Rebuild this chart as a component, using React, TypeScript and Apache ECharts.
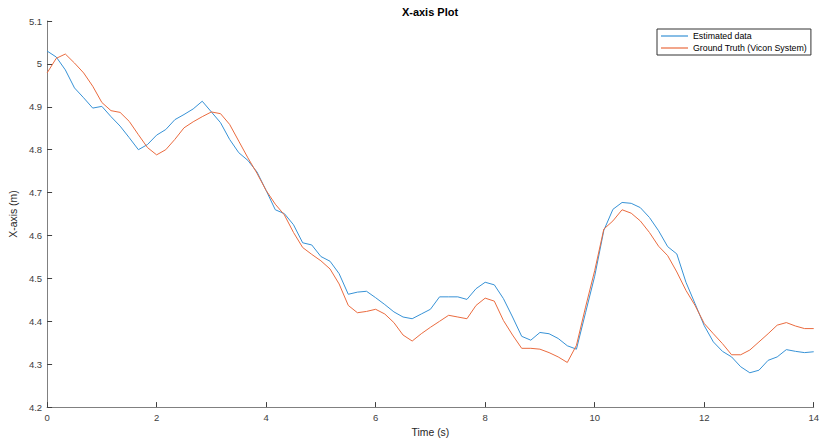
import React, { useEffect, useRef } from "react";
import * as echarts from "echarts";

const TIME = [
  0, 0.167, 0.333, 0.5, 0.667, 0.833, 1, 1.167, 1.333, 1.5, 1.667, 1.833, 2, 2.167, 2.333, 2.5, 2.667, 2.833,
  3, 3.167, 3.333, 3.5, 3.667, 3.833, 4, 4.167, 4.333, 4.5, 4.667, 4.833, 5, 5.167, 5.333, 5.5, 5.667, 5.833,
  6, 6.167, 6.333, 6.5, 6.667, 6.833, 7, 7.167, 7.333, 7.5, 7.667, 7.833, 8, 8.167, 8.333, 8.5, 8.667, 8.833,
  9, 9.167, 9.333, 9.5, 9.667, 9.833, 10, 10.167, 10.333, 10.5, 10.667, 10.833, 11, 11.167, 11.333, 11.5, 11.667, 11.833,
  12, 12.167, 12.333, 12.5, 12.667, 12.833, 13, 13.167, 13.333, 13.5, 13.667, 13.833, 14,
];

const ESTIMATED = [
  5.03, 5.016, 4.986, 4.944, 4.921, 4.897, 4.901, 4.877, 4.855, 4.828, 4.8, 4.812, 4.834, 4.847, 4.87, 4.882, 4.895, 4.913,
  4.888, 4.863, 4.824, 4.793, 4.775, 4.748, 4.705, 4.66, 4.651, 4.625, 4.583, 4.578, 4.551, 4.54, 4.511, 4.463, 4.468, 4.47,
  4.455, 4.439, 4.422, 4.41, 4.406, 4.417, 4.428, 4.457, 4.457, 4.457, 4.451, 4.476, 4.491, 4.485, 4.453, 4.41, 4.365, 4.356,
  4.374, 4.371, 4.36, 4.343, 4.335, 4.42, 4.505, 4.612, 4.661, 4.677, 4.675, 4.665, 4.642, 4.611, 4.574, 4.557, 4.491, 4.441,
  4.39, 4.352, 4.33, 4.317, 4.294, 4.28, 4.286, 4.309, 4.317, 4.334, 4.33, 4.327, 4.329,
];

const GROUND_TRUTH = [
  4.979, 5.013, 5.023, 5.002, 4.979, 4.948, 4.91, 4.891, 4.887, 4.866, 4.835, 4.805, 4.788, 4.8, 4.824, 4.851, 4.865, 4.877,
  4.888, 4.884, 4.859, 4.82, 4.781, 4.745, 4.705, 4.673, 4.648, 4.607, 4.572, 4.556, 4.541, 4.522, 4.487, 4.437, 4.42, 4.423,
  4.428, 4.417, 4.397, 4.368, 4.354, 4.371, 4.386, 4.4, 4.414, 4.41, 4.406, 4.437, 4.454, 4.447, 4.402, 4.368, 4.337, 4.337,
  4.335, 4.327, 4.317, 4.304, 4.344, 4.433, 4.518, 4.615, 4.634, 4.66, 4.652, 4.634, 4.607, 4.575, 4.553, 4.515, 4.472, 4.437,
  4.395, 4.371, 4.348, 4.322, 4.322, 4.333, 4.352, 4.371, 4.391, 4.397, 4.389, 4.383, 4.383,
];

const SERIES_NAMES = ["Estimated data", "Ground Truth (Vicon System)"];
const COLORS = ["#3792d6", "#ea6b3f"];
const FONT = "'Liberation Sans', Arial, Helvetica, sans-serif";

export default function App() {
  const ref = useRef<HTMLDivElement>(null);

  useEffect(() => {
    if (!ref.current) return;
    const chart = echarts.init(ref.current, undefined, { renderer: "svg" });
    const pair = (ys: number[]) => TIME.map((t, i) => [t, ys[i]]);
    const axisColor = "#808080";
    const labelColor = "#404040";

    chart.setOption({
      animation: false,
      backgroundColor: "#ffffff",
      title: {
        text: "X-axis Plot",
        left: 430,
        top: 6,
        padding: 0,
        textAlign: "center",
        textStyle: { fontFamily: FONT, fontSize: 11, fontWeight: "bold", color: "#000000" },
      },
      legend: {
        data: SERIES_NAMES,
        orient: "vertical",
        left: 657,
        top: 29,
        padding: [1, 4, 1, 4],
        itemGap: 0,
        itemWidth: 27,
        itemHeight: 1.2,
        icon: "rect",
        borderColor: "#333333",
        borderWidth: 1,
        backgroundColor: "#ffffff",
        textStyle: { fontFamily: FONT, fontSize: 8.8, color: "#000000", lineHeight: 12 },
      },
      grid: { left: 43, right: 5, top: 21, bottom: 33, containLabel: false },
      xAxis: {
        type: "value",
        min: 0,
        max: 14,
        interval: 2,
        name: "Time (s)",
        nameLocation: "middle",
        nameGap: 18,
        nameTextStyle: { fontFamily: FONT, fontSize: 10.4, color: "#262626" },
        axisLine: { show: true, onZero: false, lineStyle: { color: axisColor, width: 1 } },
        axisTick: { show: true, inside: true, length: 5, lineStyle: { color: "#404040", width: 1 } },
        axisLabel: { fontFamily: FONT, fontSize: 9.5, color: labelColor, margin: 5 },
        splitLine: { show: false },
      },
      yAxis: {
        type: "value",
        min: 4.2,
        max: 5.1,
        interval: 0.1,
        name: "X-axis (m)",
        nameLocation: "middle",
        nameGap: 21,
        nameTextStyle: { fontFamily: FONT, fontSize: 10.4, color: "#262626" },
        axisLine: { show: true, lineStyle: { color: axisColor, width: 1 } },
        axisTick: { show: true, inside: true, length: 5, lineStyle: { color: "#404040", width: 1 } },
        axisLabel: { fontFamily: FONT, fontSize: 9.5, color: labelColor, margin: 5 },
        splitLine: { show: false },
      },
      series: [
        {
          name: SERIES_NAMES[0],
          type: "line",
          data: pair(ESTIMATED),
          symbol: "none",
          showSymbol: false,
          lineStyle: { color: COLORS[0], width: 1 },
          itemStyle: { color: COLORS[0] },
          z: 2,
        },
        {
          name: SERIES_NAMES[1],
          type: "line",
          data: pair(GROUND_TRUTH),
          symbol: "none",
          showSymbol: false,
          lineStyle: { color: COLORS[1], width: 1 },
          itemStyle: { color: COLORS[1] },
          z: 3,
        },
      ],
    });

    return () => chart.dispose();
  }, []);

  return (
    <div
      ref={ref}
      style={{ position: "fixed", left: 0, top: 0, width: 822, height: 442, background: "#ffffff" }}
    />
  );
}
